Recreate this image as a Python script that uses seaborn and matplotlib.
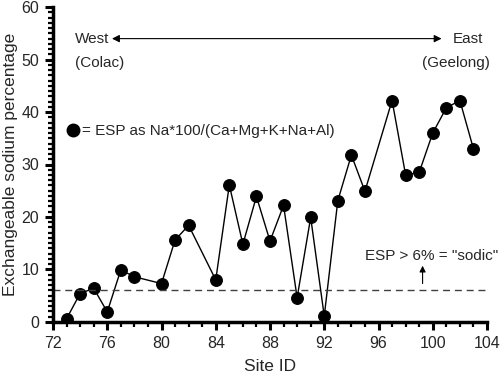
import pandas as pd
import matplotlib
matplotlib.use("Agg")
import matplotlib.pyplot as plt
from matplotlib.lines import Line2D
from matplotlib.ticker import MultipleLocator
import seaborn as sns

site_id = [73, 74, 75, 76, 77, 78, 80, 81, 82, 84, 85, 86, 87, 88, 89, 90, 91, 92,
           93, 94, 95, 97, 98, 99, 100, 101, 102, 103]
esp = [0.6, 5.4, 6.4, 1.9, 9.9, 8.6, 7.3, 15.6, 18.4, 8.0, 26.1, 14.8, 23.9, 15.4,
       22.2, 4.6, 19.9, 1.1, 23.1, 31.8, 24.9, 42.2, 28.0, 28.5, 36.0, 40.8, 42.2, 33.0]
SODIC = 6

sns.set_theme(style="ticks")
plt.rcParams["font.family"] = ["Liberation Sans", "DejaVu Sans"]

df = pd.DataFrame({"site": site_id, "esp": esp})

fig = plt.figure(figsize=(5.0, 3.76), dpi=100)
ax = fig.add_axes([0.106, 0.144, 0.868, 0.837])

sns.lineplot(data=df, x="site", y="esp", color="black", lw=1.0, marker="o",
             markersize=8.5, markeredgecolor="black", ax=ax)
ax.axhline(SODIC, color="0.25", lw=1.0, ls=(0, (5, 3.5)))

ax.set_xlim(72, 104)
ax.set_ylim(0, 60)
ax.xaxis.set_major_locator(MultipleLocator(4))
ax.xaxis.set_minor_locator(MultipleLocator(1))
ax.yaxis.set_major_locator(MultipleLocator(10))
ax.yaxis.set_minor_locator(MultipleLocator(1))
ax.tick_params(which="both", direction="out", bottom=True, left=True, color="black")
ax.tick_params(which="major", length=6, width=2.2, labelsize=11.5, pad=4)
ax.tick_params(which="minor", length=3.5, width=1.6)
for s in ["top", "right"]:
    ax.spines[s].set_visible(False)
for s in ["left", "bottom"]:
    ax.spines[s].set_linewidth(2.5)
    ax.spines[s].set_color("black")
ax.set_xlabel("Site ID", fontsize=12.5, labelpad=6)
ax.set_ylabel("Exchangeable sodium percentage", fontsize=12.5, labelpad=2)

# direction annotation
ax.annotate("", xy=(76.35, 54.0), xytext=(100.65, 54.0),
            arrowprops=dict(arrowstyle="<|-|>", color="black", lw=0.8,
                            mutation_scale=11, shrinkA=0, shrinkB=0))
ax.text(73.6, 54.0, "West", fontsize=11, va="center", ha="left")
ax.text(73.6, 49.3, "(Colac)", fontsize=11, va="center", ha="left")
ax.text(103.75, 54.0, "East", fontsize=11, va="center", ha="right")
ax.text(104.2, 49.3, "(Geelong)", fontsize=11, va="center", ha="right")

handle = Line2D([], [], color="black", marker="o", lw=0, markersize=9)
ax.legend([handle], ["= ESP as Na*100/(Ca+Mg+K+Na+Al)"], loc="center left",
          bbox_to_anchor=(0.012, 0.605), frameon=False, fontsize=11,
          handlelength=0.6, handletextpad=0.25, borderaxespad=0.3)

ax.text(104.8, 12.6, 'ESP > 6% = "sodic"', fontsize=11, ha="right", va="center")
ax.annotate("", xy=(99.25, 10.7), xytext=(99.25, 7.3),
            arrowprops=dict(arrowstyle="-|>", color="black", lw=0.8,
                            mutation_scale=9, shrinkA=0, shrinkB=0))

fig.savefig("out.png", dpi=100)
